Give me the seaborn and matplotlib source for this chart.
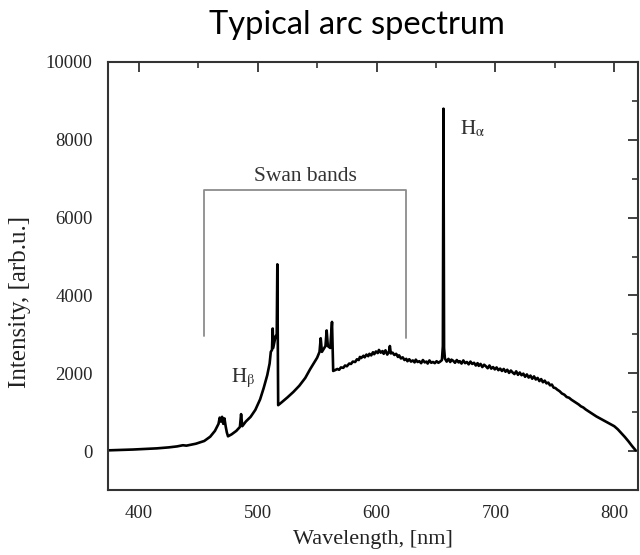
import matplotlib
matplotlib.use("Agg")
import matplotlib.pyplot as plt
from matplotlib.ticker import MultipleLocator
import seaborn as sns
import pandas as pd

# ---- data (wavelength nm, intensity arb.u.) ----
# blue region up to the 516 nm Swan head
wl_blue = [375, 385, 395, 405, 415, 425, 432, 437, 440, 448, 455, 460, 464, 467,
           468, 469, 470, 471, 472, 473, 474, 475, 478, 482, 485, 486, 487, 490,
           494, 498, 502, 505, 508, 510, 511, 512, 512.6, 513, 514, 515, 516, 516.5]
in_blue = [20, 30, 40, 55, 70, 95, 120, 150, 140, 190, 260, 370, 520, 700,
           860, 760, 880, 700, 840, 640, 480, 380, 430, 520, 620, 950, 640, 760,
           880, 1060, 1330, 1620, 1950, 2250, 2550, 2600, 3150, 2650, 2800, 2950, 3000, 4800]

# green region (563 nm Swan head)
wl_green = [517.2, 520, 525, 530, 535, 540, 544, 547, 550, 552, 553, 554, 556, 557,
            558, 559, 561, 562.5, 563.5]
in_green = [1180, 1250, 1380, 1520, 1680, 1880, 2100, 2250, 2400, 2550, 2900, 2550, 2650, 2700,
            3100, 2700, 2650, 3320, 2060]

# plateau up to H-alpha
wl_plateau = [565, 567, 568.5, 570, 572, 573.5, 575, 577, 578.5, 580, 582, 583.5, 585,
              586, 587, 589, 590, 591.5, 593, 594, 595.5, 597, 598, 599.5, 601, 602,
              603.5, 605, 606, 607.5, 609, 610.5, 611.2, 612, 613.5, 615, 616.5, 618,
              619, 620.5, 622, 623.5, 625, 626, 627.5, 629, 630.5, 632, 633, 634.5,
              636, 637.5, 639, 640.5, 642, 643, 644.5, 646, 647.5, 649, 650.5, 652,
              653.5, 655, 655.8, 656.3, 656.8, 657.5]
in_plateau = [2080, 2110, 2090, 2150, 2140, 2200, 2180, 2250, 2240, 2300, 2290, 2360, 2340,
              2420, 2390, 2450, 2410, 2480, 2440, 2500, 2460, 2540, 2490, 2560, 2520, 2600,
              2530, 2570, 2500, 2590, 2480, 2560, 2700, 2510, 2530, 2470, 2500, 2420,
              2460, 2380, 2410, 2340, 2370, 2310, 2360, 2300, 2330, 2280, 2350, 2290,
              2310, 2260, 2340, 2280, 2300, 2250, 2330, 2270, 2290, 2260, 2310, 2270,
              2300, 2340, 2700, 8800, 2650, 2380]

# red region after H-alpha
wl_red = [659, 660.5, 662, 663, 664.5, 666, 667.5, 669, 670, 671.5, 673, 674.5, 676,
          677.5, 679, 680.5, 682, 683.5, 685, 686, 687.5, 689, 690.5, 692, 693.5, 695,
          696.5, 698, 699.5, 701, 702.5, 704, 705.5, 707, 708.5, 710, 711.5, 713,
          714.5, 716, 717.5, 719, 720.5, 722, 723.5, 725, 726.5, 728, 729.5, 731,
          732.5, 734, 735.5, 737, 738.5, 740, 741.5, 743, 744.5, 746, 747.5, 749,
          750.5, 752, 754, 756, 758, 760, 762, 764, 766, 768, 770, 772, 774, 776,
          778, 780, 782, 785, 788, 791, 794, 797, 800, 803, 806, 809, 812, 815, 818]
in_red = [2300, 2370, 2290, 2350, 2320, 2270, 2340, 2280, 2310, 2250, 2330, 2260, 2290,
          2230, 2300, 2240, 2270, 2200, 2260, 2190, 2240, 2160, 2220, 2180, 2130, 2200,
          2120, 2160, 2100, 2150, 2080, 2120, 2060, 2110, 2040, 2090, 2010, 2070,
          2020, 1980, 2050, 1960, 2020, 1950, 1990, 1910, 1970, 1890, 1940, 1860,
          1920, 1840, 1880, 1800, 1850, 1770, 1810, 1740, 1760, 1690, 1710, 1630,
          1620, 1580, 1540, 1480, 1450, 1390, 1370, 1320, 1280, 1240, 1200, 1150, 1120, 1070,
          1030, 990, 950, 890, 840, 790, 740, 690, 640, 560, 460, 360, 250, 130, 20]

x_ticks = [400, 500, 600, 700, 800]
y_ticks = [0, 2000, 4000, 6000, 8000, 10000]

swan_x = [455, 455, 625, 625]
swan_y = [2950, 6720, 6720, 2900]

wavelength = wl_blue + wl_green + wl_plateau + wl_red
intensity = in_blue + in_green + in_plateau + in_red
assert len(wavelength) == len(intensity)
df = pd.DataFrame({"wavelength": wavelength, "intensity": intensity})

sns.set_style("white")
plt.rcParams["font.family"] = ["Liberation Serif", "DejaVu Serif"]
plt.rcParams["mathtext.fontset"] = "stix"

fig = plt.figure(figsize=(6.4, 5.55), dpi=100)
ax = fig.add_axes([108 / 640, 65 / 555, 530 / 640, 428 / 555])

sns.lineplot(data=df, x="wavelength", y="intensity", ax=ax, color="black",
             linewidth=1.9, estimator=None)

ax.plot(swan_x, swan_y, color="#8c8c8c", linewidth=1.3)
ax.text(540, 7060, "Swan bands", ha="center", va="center", fontsize=15.5, color="#333333")
ax.text(670.5, 8280, r"$\mathrm{H}_{\mathrm{\alpha}}$", ha="left", va="center",
        fontsize=15, color="#333333")
ax.text(477.5, 1880, r"$\mathrm{H}_{\mathrm{\beta}}$", ha="left", va="center",
        fontsize=15, color="#333333")

ax.set_xlim(374, 820)
ax.set_ylim(-1000, 10000)
ax.set_xticks(x_ticks)
ax.set_yticks(y_ticks)
ax.xaxis.set_minor_locator(MultipleLocator(50))
ax.yaxis.set_minor_locator(MultipleLocator(1000))
ax.tick_params(which="both", direction="in", top=True, right=True,
               labeltop=False, labelright=False, color="#333333")
ax.tick_params(which="major", length=7, width=1.3, labelsize=13.5, pad=11)
ax.tick_params(which="minor", length=4, width=1.2)
for s in ax.spines.values():
    s.set_linewidth(1.5)
    s.set_color("#333333")

ax.set_xlabel("Wavelength, [nm]", fontsize=16, color="#222222")
ax.xaxis.set_label_coords(0.5, -0.094)
ax.set_ylabel("Intensity, [arb.u.]", fontsize=18, color="#222222")
ax.yaxis.set_label_coords(-0.145, 0.44)

fig.text(357 / 640, 1 - 25 / 555, "Typical arc spectrum", ha="center", va="center",
         fontsize=23.5, family=["Lato", "DejaVu Sans"], color="black")

fig.savefig("out.png", dpi=100)
